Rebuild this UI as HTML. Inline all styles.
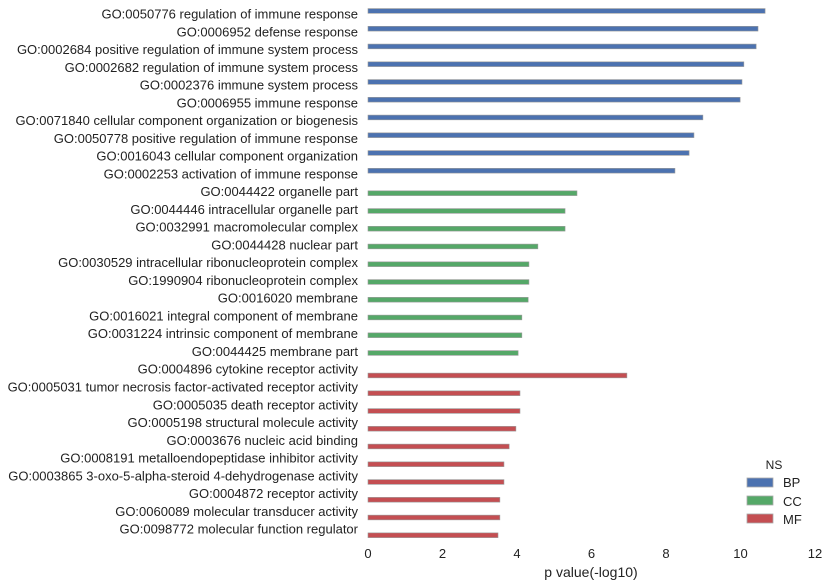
<!DOCTYPE html>
<html><head><meta charset="utf-8"><style>
body{margin:0;background:#fff;}
svg{display:block;font-family:"Liberation Sans",sans-serif;}
</style></head><body>
<svg id="chart" width="828" height="587">
<g id="bars"></g>
<g id="ylabels"></g>
<g id="xticks"></g>
<text x="591" y="577" font-size="14" text-anchor="middle" fill="#222">p value(-log10)</text>
<g>
<text x="774" y="469" font-size="12" text-anchor="middle" fill="#222">NS</text>
<g><rect x="747" y="478" width="26" height="9" fill="#4c72b0" stroke="#aaa" stroke-width="0.8"/><text x="783" y="487" font-size="13" fill="#222">BP</text></g>
<g><rect x="747" y="496" width="26" height="9" fill="#55a868" stroke="#aaa" stroke-width="0.8"/><text x="783" y="506" font-size="13" fill="#222">CC</text></g>
<g><rect x="747" y="514" width="26" height="9" fill="#c44e52" stroke="#aaa" stroke-width="0.8"/><text x="783" y="524" font-size="13" fill="#222">MF</text></g>
</g>
</svg>
<script>
const categories=["GO:0050776 regulation of immune response","GO:0006952 defense response","GO:0002684 positive regulation of immune system process","GO:0002682 regulation of immune system process","GO:0002376 immune system process","GO:0006955 immune response","GO:0071840 cellular component organization or biogenesis","GO:0050778 positive regulation of immune response","GO:0016043 cellular component organization","GO:0002253 activation of immune response","GO:0044422 organelle part","GO:0044446 intracellular organelle part","GO:0032991 macromolecular complex","GO:0044428 nuclear part","GO:0030529 intracellular ribonucleoprotein complex","GO:1990904 ribonucleoprotein complex","GO:0016020 membrane","GO:0016021 integral component of membrane","GO:0031224 intrinsic component of membrane","GO:0044425 membrane part","GO:0004896 cytokine receptor activity","GO:0005031 tumor necrosis factor-activated receptor activity","GO:0005035 death receptor activity","GO:0005198 structural molecule activity","GO:0003676 nucleic acid binding","GO:0008191 metalloendopeptidase inhibitor activity","GO:0003865 3-oxo-5-alpha-steroid 4-dehydrogenase activity","GO:0004872 receptor activity","GO:0060089 molecular transducer activity","GO:0098772 molecular function regulator"];
const namespaces=["BP","BP","BP","BP","BP","BP","BP","BP","BP","BP","CC","CC","CC","CC","CC","CC","CC","CC","CC","CC","MF","MF","MF","MF","MF","MF","MF","MF","MF","MF"];
const values=[10.66,10.47,10.42,10.09,10.04,9.99,8.99,8.75,8.62,8.24,5.61,5.29,5.29,4.56,4.32,4.32,4.30,4.13,4.13,4.03,6.95,4.08,4.08,3.97,3.79,3.65,3.65,3.54,3.54,3.49];
const xTicks=[0,2,4,6,8,10,12];
const nsList=["BP","CC","MF"];
const colors={BP:"#4c72b0",CC:"#55a868",MF:"#c44e52"};
const NS="http://www.w3.org/2000/svg";
const x0=368,x1=815,xmax=12,yTop=6.8,yBot=539.4;
const n=categories.length;
const step=(yBot-yTop)/n;
function xs(v){return x0+(x1-x0)*v/xmax;}
function yc(i){return yTop+step*(i+0.5);}
const bw=step*0.8/3;
const bars=document.getElementById('bars'),yl=document.getElementById('ylabels'),xt=document.getElementById('xticks');
categories.forEach((c,i)=>{
  const k=nsList.indexOf(namespaces[i]);
  const r=document.createElementNS(NS,'rect');
  r.setAttribute('x',x0);r.setAttribute('y',yc(i)+(k-1)*bw-bw/2);
  r.setAttribute('width',xs(values[i])-x0);r.setAttribute('height',bw);
  r.setAttribute('fill',colors[namespaces[i]]);r.setAttribute('stroke','#999');r.setAttribute('stroke-width','0.6');
  
  
  bars.appendChild(r);
  const t=document.createElementNS(NS,'text');
  t.setAttribute('x',358);t.setAttribute('y',yc(i)-1.5+4.5);
  t.setAttribute('font-size','13');t.setAttribute('text-anchor','end');t.setAttribute('fill','#222');
  t.textContent=c;
  
  
  yl.appendChild(t);
});
xTicks.forEach(v=>{
  const t=document.createElementNS(NS,'text');
  t.setAttribute('x',xs(v));t.setAttribute('y',558);
  t.setAttribute('font-size','13');t.setAttribute('text-anchor','middle');t.setAttribute('fill','#222');
  t.textContent=v;
  
  
  xt.appendChild(t);
});
</script>
</body></html>
